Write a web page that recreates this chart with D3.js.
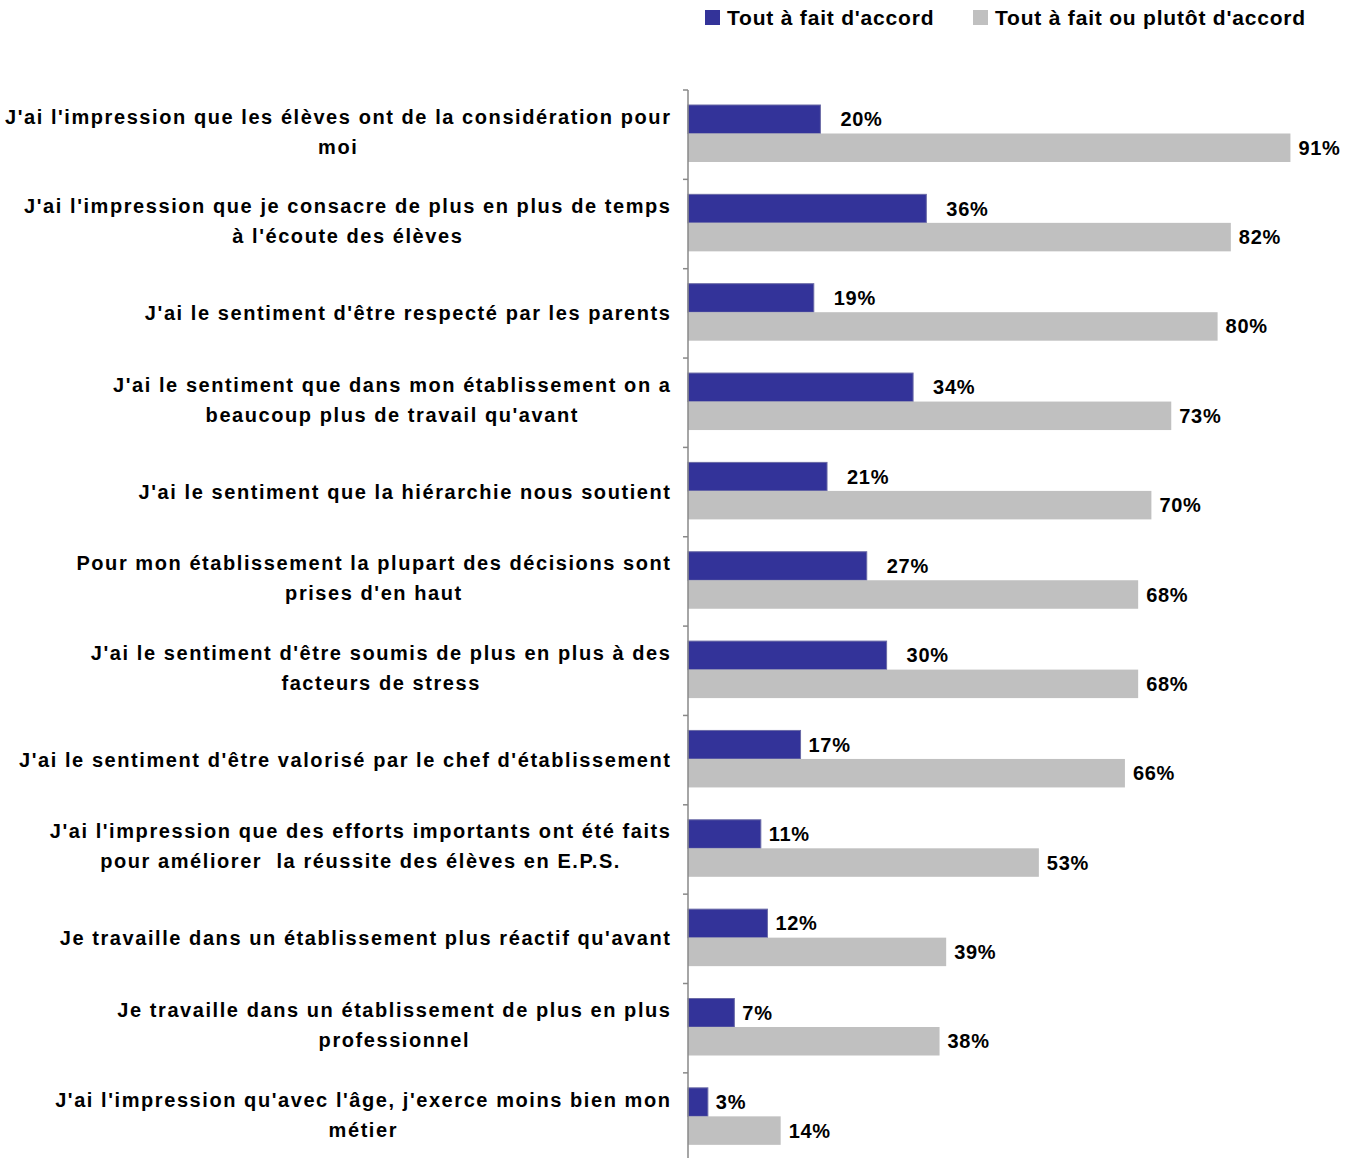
<!DOCTYPE html>
<html><head><meta charset="utf-8">
<script src="https://cdn.jsdelivr.net/npm/d3@7"></script>
<style>body{margin:0;background:#fff}svg{display:block}text{font-family:"Liberation Sans",Arial,sans-serif;font-weight:bold;fill:#000}</style>
</head><body>
<script>
const categories = [
  "J'ai l'impression que les élèves ont de la considération pour\nmoi",
  "J'ai l'impression que je consacre de plus en plus de temps\nà l'écoute des élèves",
  "J'ai le sentiment d'être respecté par les parents",
  "J'ai le sentiment que dans mon établissement on a\nbeaucoup plus de travail qu'avant",
  "J'ai le sentiment que la hiérarchie nous soutient",
  "Pour mon établissement la plupart des décisions sont\nprises d'en haut",
  "J'ai le sentiment d'être soumis de plus en plus à des\nfacteurs de stress",
  "J'ai le sentiment d'être valorisé par le chef d'établissement",
  "J'ai l'impression que des efforts importants ont été faits\npour améliorer  la réussite des élèves en E.P.S.",
  "Je travaille dans un établissement plus réactif qu'avant",
  "Je travaille dans un établissement de plus en plus\nprofessionnel",
  "J'ai l'impression qu'avec l'âge, j'exerce moins bien mon\nmétier"
];
const seriesNames = ["Tout à fait d'accord", "Tout à fait ou plutôt d'accord"];
const toutAFait = [20, 36, 19, 34, 21, 27, 30, 17, 11, 12, 7, 3];
const plutot = [91, 82, 80, 73, 70, 68, 68, 66, 53, 39, 38, 14];
const colors = ["#333399", "#c0c0c0"];

const W = 1358, H = 1158;
const svg = d3.select("body").append("svg").attr("width", W).attr("height", H);

const x = d3.scaleLinear().domain([0, 100]).range([688, 1350]);
const y = d3.scaleBand().domain(categories).range([90, 90 + 12 * 89.35]).padding(0);
const ySub = d3.scaleBand().domain([0, 1]).range([15, 72]).padding(0);

const rows = categories.map((c, i) => ({c, vals: [toutAFait[i], plutot[i]]}));

const g = svg.selectAll("g.row").data(rows).join("g").attr("class", "row")
  .attr("transform", d => `translate(0,${y(d.c)})`);

g.selectAll("rect").data(d => d.vals.map((v, k) => ({v, k}))).join("rect")
  .attr("x", x(0))
  .attr("y", d => ySub(d.k))
  .attr("width", d => x(d.v) - x(0))
  .attr("height", ySub.bandwidth())
  .attr("fill", d => colors[d.k])
  .attr("stroke", d => d.k === 0 ? "#6a6aa6" : "none")
  .attr("stroke-width", 1);

g.selectAll("text.val").data(d => d.vals.map((v, k) => ({v, k}))).join("text")
  .attr("class", "val")
  .attr("x", d => x(d.v) + (d.k === 0 && d.v >= 19 ? 20 : 8))
  .attr("y", d => ySub(d.k) + ySub.bandwidth() / 2)
  .attr("dy", "0.35em")
  .attr("font-size", 20)
  .attr("letter-spacing", "0.7px")
  .text(d => d.v + "%");

// category labels
g.each(function(d) {
  const lines = d.c.split("\n");
  const t = d3.select(this).append("text")
    .attr("font-size", 20).attr("letter-spacing", "1.57px")
    .attr("text-anchor", "middle").style("white-space", "pre");
  const bw = y.bandwidth();
  const lh = 30;
  const y0 = bw / 2 - (lines.length > 1 ? 3 : 0.5) - (lines.length - 1) * lh / 2;
  const spans = lines.map((l, i) => t.append("tspan").attr("y", y0 + i * lh).attr("dy", "0.35em").text(l));
  let maxW = 0;
  spans.forEach(s => { maxW = Math.max(maxW, s.node().getComputedTextLength()); });
  const cx = 671.5 - maxW / 2;
  spans.forEach(s => s.attr("x", cx));
});

// axis
const axisG = svg.append("g");
axisG.append("line").attr("x1", x(0)).attr("x2", x(0)).attr("y1", 90).attr("y2", H)
  .attr("stroke", "#888").attr("stroke-width", 1.5);
const bounds = categories.map(c => y(c)).concat([y.range()[1]]);
axisG.selectAll("line.tick").data(bounds).join("line").attr("class", "tick")
  .attr("x1", x(0) - 5).attr("x2", x(0)).attr("y1", d => d).attr("y2", d => d)
  .attr("stroke", "#888").attr("stroke-width", 1.5);

// legend
const legX = [705, 973];
const leg = svg.selectAll("g.leg").data(seriesNames).join("g").attr("class", "leg")
  .attr("transform", (d, i) => `translate(${legX[i]},10)`);
leg.append("rect").attr("width", 15).attr("height", 15).attr("fill", (d, i) => colors[i]);
leg.append("text").attr("x", 22).attr("y", 7.5).attr("dy", "0.35em")
  .attr("font-size", 21).attr("letter-spacing", "0.8px").text(d => d);
</script>
</body></html>
